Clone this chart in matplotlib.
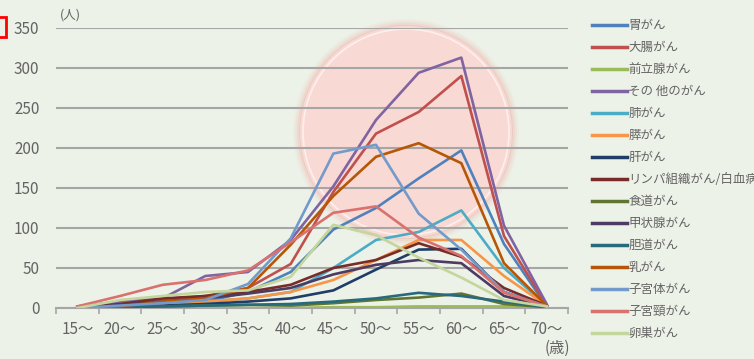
import matplotlib.pyplot as plt
from matplotlib.patches import Circle, Rectangle
from matplotlib.lines import Line2D

plt.rcParams['font.family'] = ['Noto Sans CJK JP', 'DejaVu Sans']

# age groups (x categories)
ages = ['15〜', '20〜', '25〜', '30〜', '35〜', '40〜', '45〜', '50〜',
        '55〜', '60〜', '65〜', '70〜']

# number of patients per cancer type
stomach    = [0, 3, 5, 8, 20, 45, 98, 125, 162, 197, 80, 2]
colon      = [0, 5, 10, 15, 25, 55, 145, 218, 245, 290, 90, 3]
prostate   = [0, 0, 0, 0, 0, 0, 1, 1, 2, 2, 2, 2]
other      = [2, 8, 12, 40, 45, 85, 152, 235, 294, 313, 103, 5]
lung       = [0, 2, 5, 8, 12, 20, 50, 85, 95, 122, 50, 3]
pancreas   = [0, 2, 5, 8, 12, 20, 35, 60, 85, 85, 40, 3]
liver      = [0, 1, 3, 5, 8, 12, 22, 48, 73, 74, 20, 2]
lymph      = [0, 5, 12, 15, 20, 29, 50, 60, 81, 64, 25, 3]
esophagus  = [0, 1, 2, 3, 4, 3, 6, 10, 13, 18, 5, 1]
thyroid    = [0, 4, 8, 12, 18, 25, 42, 54, 60, 56, 15, 2]
biliary    = [0, 1, 2, 3, 4, 5, 8, 12, 19, 15, 8, 1]
breast     = [0, 2, 8, 12, 25, 79, 140, 189, 206, 181, 56, 3]
uterine    = [0, 3, 6, 10, 30, 87, 193, 204, 118, 73, 20, 2]
cervical   = [2, 15, 29, 35, 47, 82, 119, 127, 88, 65, 19, 2]
ovarian    = [0, 10, 15, 20, 22, 39, 104, 91, 63, 38, 10, 2]

names = ['胃がん', '大腸がん', '前立腺がん', 'その 他のがん', '肺がん', '膵がん', '肝がん',
         'リンパ組織がん/白血病', '食道がん', '甲状腺がん', '胆道がん', '乳がん',
         '子宮体がん', '子宮頸がん', '卵巣がん']
series = [stomach, colon, prostate, other, lung, pancreas, liver, lymph,
          esophagus, thyroid, biliary, breast, uterine, cervical, ovarian]
colors = ['#4f81bd', '#c0504d', '#9bbb59', '#8064a2', '#4bacc6', '#f79646',
          '#1f3d66', '#772c2a', '#5f7530', '#4d3b62', '#276a7c', '#b65708',
          '#729aca', '#d9716f', '#c3d69b']

bg = '#edf2e8'
grey = '#646464'

fig = plt.figure(figsize=(7.54, 3.59), dpi=100, facecolor=bg)
ax = fig.add_axes([56 / 754, 1 - 308 / 359, 512 / 754, 280 / 359])
ax.set_facecolor('none')

# pink highlight circle with a soft edge
cx, cy, r = 4.06, (359 - 132) / 100, 1.06
for k, a in enumerate([0.05, 0.08, 0.12, 0.18]):
    ax.add_patch(Circle((cx, cy), r + 0.07 - k * 0.02, transform=fig.dpi_scale_trans,
                        color='#ec8f82', alpha=a, lw=0, zorder=0.1, clip_on=False))
ax.add_patch(Circle((cx, cy), r, transform=fig.dpi_scale_trans, color='#f9d9d3',
                    lw=0, zorder=0.2, clip_on=False))
ax.add_patch(Circle((cx, cy), r - 0.03, transform=fig.dpi_scale_trans, fill=False,
                    ec='white', lw=1.2, alpha=0.6, zorder=0.3, clip_on=False))

x = list(range(len(ages)))
for vals, c in zip(series, colors):
    ax.plot(x, vals, color=c, lw=1.9, zorder=3)

ax.set_xlim(-0.5, len(ages) - 0.5)
ax.set_ylim(0, 350)
ax.set_yticks(range(0, 351, 50))
ax.yaxis.grid(True, color='#a6a6a6', lw=1.5, zorder=1)
ax.set_axisbelow(False)
for gl in ax.get_ygridlines():
    gl.set_zorder(1)
ax.tick_params(axis='y', length=0, pad=12, labelsize=11, labelcolor=grey)

ax.set_xticks(x)
ax.set_xticklabels(ages)
ax.set_xticks([i - 0.5 for i in range(len(ages) + 1)], minor=True)
ax.tick_params(axis='x', which='major', length=0, pad=9, labelsize=11, labelcolor=grey)
ax.tick_params(axis='x', which='minor', length=4, color='#a6a6a6', width=1.2)
for s in ['top', 'right', 'left']:
    ax.spines[s].set_visible(False)
ax.spines['bottom'].set_color('#a6a6a6')
ax.spines['bottom'].set_linewidth(1.5)

fig.text(60 / 754, 1 - 15 / 359, '(人)', fontsize=9, color=grey, va='center')
fig.text(557 / 754, 1 - 348 / 359, '(歳)', fontsize=11, color=grey, va='center', ha='center')

# red box at the top left
fig.patches.append(Rectangle((-10, 359 - 37), 16, 20, fill=False, ec='red', lw=2,
                             transform=None))

handles = [Line2D([], [], color=c, lw=2.5) for c in colors]
fig.legend(handles, names, loc='upper left', bbox_to_anchor=(587 / 754, 1 - 14 / 359),
           frameon=False, fontsize=9, labelcolor=grey, handlelength=2.8,
           handletextpad=0.1, labelspacing=0.72, borderaxespad=0)

fig.savefig('out.png', dpi=100, facecolor=bg)
